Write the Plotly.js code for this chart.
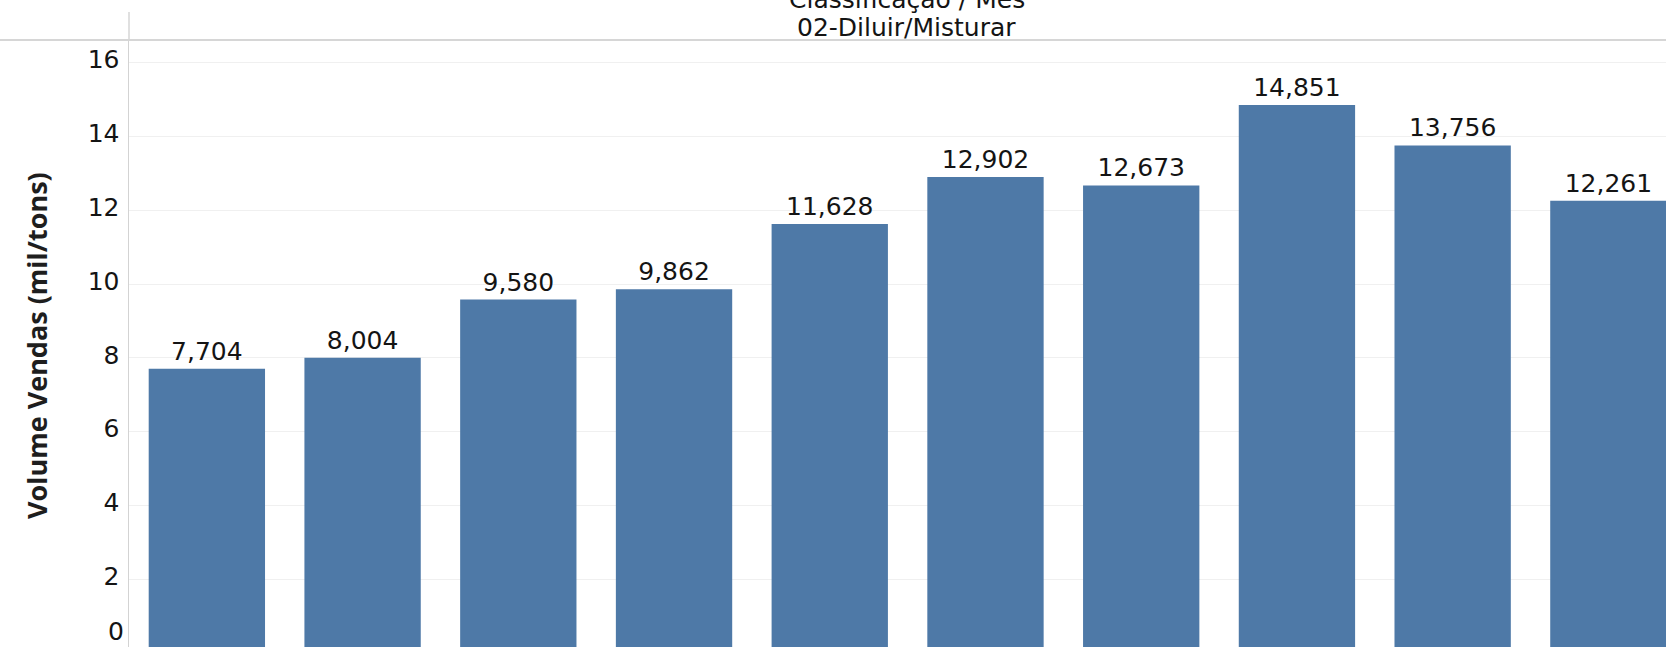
<!DOCTYPE html>
<html>
<head>
<meta charset="utf-8">
<script src="https://cdn.plot.ly/plotly-3.0.1.min.js"></script>
<style>
html,body{margin:0;padding:0;background:#fff;overflow:hidden;}
#chart{width:1666px;height:647px;}
</style>
</head>
<body>
<div id="chart"></div>
<script>
// Data (values in mil/tons)
const months = ["Jan", "Fev", "Mar", "Abr", "Mai", "Jun", "Jul", "Ago", "Set", "Out"];
const volumes = [7.704, 8.004, 9.580, 9.862, 11.628, 12.902, 12.673, 14.851, 13.756, 12.261];
const yTicks = [0, 2, 4, 6, 8, 10, 12, 14, 16];
const headerTitle = "Classificação / Mês";
const headerSub = "02-Diluir/Misturar";
const yTitle = "Volume Vendas (mil/tons)";

const yRange = [0.163, 16.615];
const fontMain = "DejaVu Sans, Verdana, sans-serif";
const textColor = "#141414";

const trace = {
  type: "bar",
  x: months,
  y: volumes,
  marker: {color: "#4e79a7", line: {width: 0}},
  texttemplate: "%{y:,.3f}",
  textposition: "outside",
  cliponaxis: false,
  textfont: {family: fontMain, size: 25, color: textColor},
  hoverinfo: "x+y"
};

// position of the 0 tick label, which sits just below the visible range
const zeroFrac = (0 - yRange[0]) / (yRange[1] - yRange[0]);

const layout = {
  width: 1666,
  height: 647,
  margin: {l: 129, r: 0, t: 40, b: 0, pad: 0},
  paper_bgcolor: "#ffffff",
  plot_bgcolor: "#ffffff",
  separators: ",.",
  bargap: 0.253,
  showlegend: false,
  font: {family: fontMain, color: textColor},
  xaxis: {
    type: "category",
    range: [-0.5, 9.37],
    showticklabels: false,
    showgrid: false,
    zeroline: false,
    showline: false,
    ticks: ""
  },
  yaxis: {
    range: yRange,
    tickvals: yTicks,
    ticktext: yTicks.map(String),
    showgrid: true,
    gridcolor: "#f0f0f0",
    gridwidth: 1,
    zeroline: false,
    showline: true,
    linecolor: "#d3d3d3",
    linewidth: 1.5,
    ticks: "",
    ticklabelstandoff: 3,
    ticklabelshift: -3,
    tickfont: {family: fontMain, size: 25, color: textColor}
  },
  shapes: [
    {type: "line", xref: "paper", yref: "paper", x0: -0.1, x1: 1, y0: 1, y1: 1,
     line: {color: "#d6d6d6", width: 2}},
    {type: "line", xref: "paper", yref: "paper", x0: 0, x1: 0, y0: 1, y1: 1 + 28 / 607,
     line: {color: "#d6d6d6", width: 1.5}}
  ],
  annotations: [
    {text: headerTitle, xref: "paper", yref: "paper", x: 0.506, y: 1, xanchor: "center", yanchor: "bottom",
     yshift: 24, showarrow: false, font: {family: fontMain, size: 25, color: textColor}},
    {text: headerSub, xref: "paper", yref: "paper", x: 0.506, y: 1, xanchor: "center", yanchor: "bottom",
     yshift: -4, showarrow: false, font: {family: fontMain, size: 25, color: textColor}},
    {text: yTitle, xref: "paper", yref: "paper", x: -0.060, y: 0.497, xanchor: "center", yanchor: "middle",
     textangle: -90, showarrow: false, font: {family: "Open Sans, sans-serif", size: 27, color: "#1e1e1e", weight: "bold"}},
    {text: String(yTicks[0]), xref: "paper", yref: "paper", x: 0, y: zeroFrac, xanchor: "right", yanchor: "middle",
     xshift: -3, yshift: 22, showarrow: false, font: {family: fontMain, size: 25, color: textColor}}
  ]
};

Plotly.newPlot("chart", [trace], layout, {displayModeBar: false, staticPlot: true});
</script>
</body>
</html>
